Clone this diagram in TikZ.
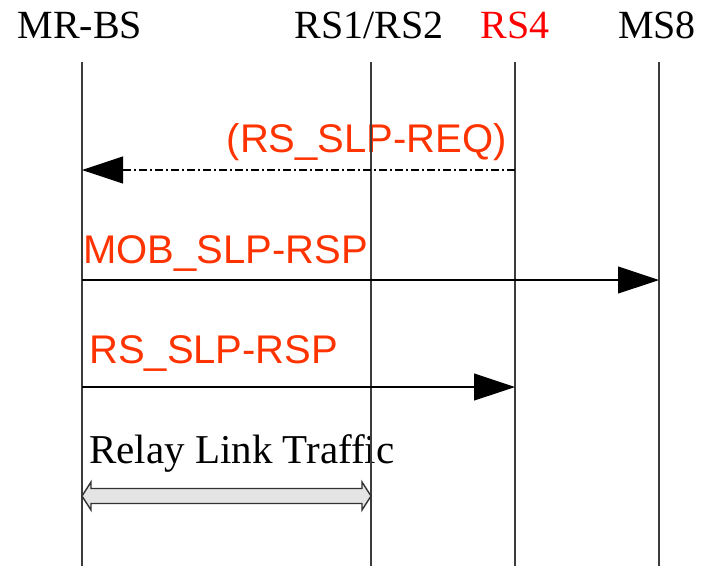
\documentclass[tikz,border=0pt]{standalone}
\usepackage{fontspec}
\setmainfont{Liberation Serif}
\newfontfamily\msgfont{Liberation Sans}
\usetikzlibrary{arrows.meta, positioning, calc}
\definecolor{MsgColor}{RGB}{255,51,0}
\definecolor{LifeColor}{RGB}{60,60,60}
\definecolor{TrafficFill}{RGB}{228,228,228}
\tikzstyle{lifeline} = [line width=1.2pt, LifeColor]
\tikzstyle{entity} = [inner sep=0pt, anchor=base, font=\fontsize{40}{46}\selectfont]
\tikzstyle{msglabel} = [inner sep=0pt, MsgColor, font=\msgfont\fontsize{40}{46}\selectfont]
\tikzstyle{msg} = [line width=1.1pt, -{Triangle[length=41pt,width=27pt]}]
\tikzstyle{optmsg} = [msg, dash pattern=on 8pt off 3pt on 2pt off 3pt]
\tikzstyle{traffic} = [line width=1.4pt, black!80, fill=TrafficFill]

\begin{document}
\begin{tikzpicture}[x=1pt,y=-1pt]
    \useasboundingbox (0,0) rectangle (711,566);
    % Entities
    \node[entity] (bs) at (80,38) {MR-BS};
    \node[entity] (rs) at (369,38) {RS1/RS2};
    \node[entity, red] (rs4) at (515,38) {RS4};
    \node[entity] (ms) at (657,38) {MS8};

    % Message labels
    \node[msglabel, anchor=base east] (reqlbl) at (507,152) {(RS\_SLP-REQ)};
    \node[msglabel, anchor=base west] (moblbl) at (83,263) {MOB\_SLP-RSP};
    \node[msglabel, anchor=base west] (rsplbl) at (89,363) {RS\_SLP-RSP};
    \node[inner sep=0pt, anchor=base west, font=\fontsize{41}{47}\selectfont] (relaylbl) at (89,463) {Relay Link Traffic};

    % Lifelines
    \foreach \id/\x in {bs/82, rs/371, rs4/515, ms/659} {
            \coordinate (\id-top) at (\x,62);
            \coordinate (\id-bot) at (\x,566);
            \foreach \row/\y in {req/170, mob/280, rsp/387, relay/496} {
                    \coordinate (\id-\row) at (\x,\y);
                }
            \draw[lifeline] (\id-top) -- (\id-bot);
        }

    % Messages
    \draw[optmsg] (rs4-req) -- (bs-req);
    \draw[msg] (bs-mob) -- (ms-mob);
    \draw[msg] (bs-rsp) -- (rs4-rsp);

    % Relay link traffic
    \draw[traffic] (bs-relay) -- ++(9,-14) -- ++(0,6.5) -- ++(271,0) -- ++(0,-6.5)
        -- (rs-relay) -- ++(-9,14) -- ++(0,-6.5) -- ++(-271,0) -- ++(0,6.5) -- cycle;
\end{tikzpicture}
\end{document}
